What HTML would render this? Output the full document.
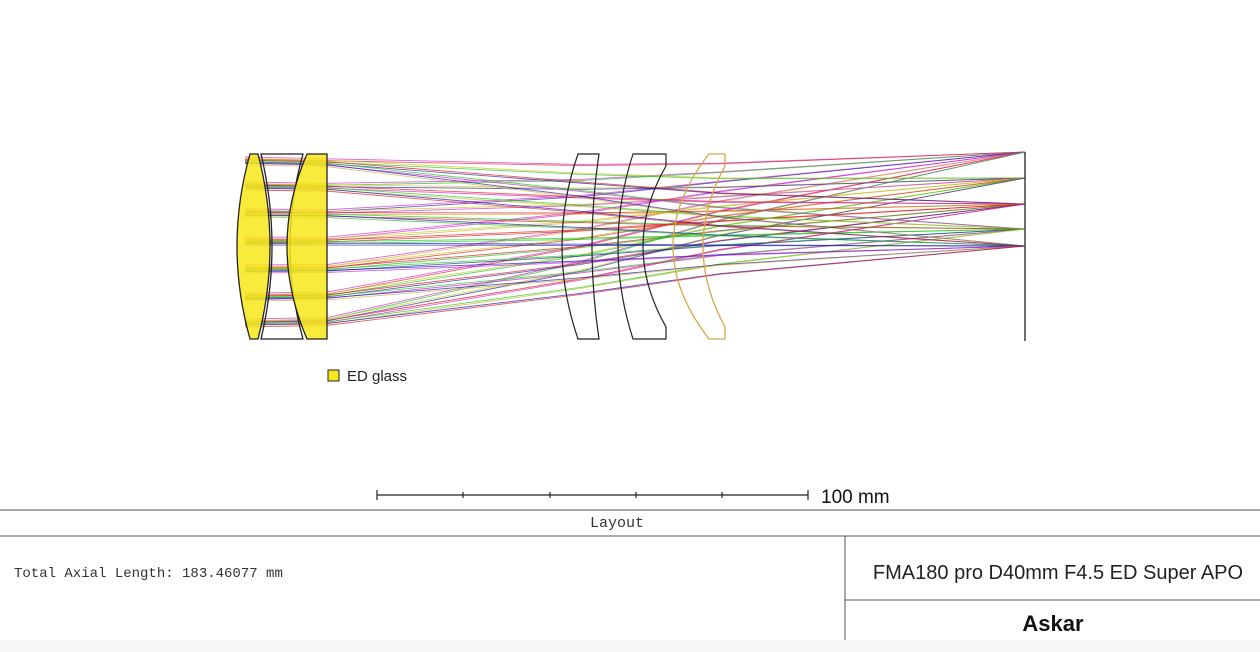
<!DOCTYPE html>
<html><head><meta charset="utf-8"><style>
html,body{margin:0;padding:0;background:#fff;}
body{width:1260px;height:652px;overflow:hidden;position:relative;font-family:"Liberation Sans",sans-serif;}
</style></head><body>
<svg id="s" width="1260" height="652" viewBox="0 0 1260 652" xmlns="http://www.w3.org/2000/svg" style="position:absolute;left:0;top:0">
<g id="rays" fill="none" stroke-width="0.9"></g>
<!-- front lenses -->
<path d="M250,154 L258,154 Q282,246 258,339 L250,339 Q224,246 250,154 Z" fill="#f7e81a" fill-opacity="0.85" stroke="#222" stroke-width="1.3"/>
<path d="M261,154 L303,154 Q277,246 303,339 L261,339 Q283,246 261,154 Z" fill="none" stroke="#222" stroke-width="1.3"/>
<path d="M307,154 L327,154 L327,339 L307,339 Q267,246 307,154 Z" fill="#f7e81a" fill-opacity="0.85" stroke="#222" stroke-width="1.3"/>
<!-- rear lenses -->
<path d="M578,154 L599,154 Q585,246 599,339 L578,339 Q546,246 578,154 Z" fill="none" stroke="#222" stroke-width="1.2"/>
<path d="M633,154 L666,154 L666,166 Q620,246 666,327 L666,339 L633,339 Q603,246 633,154 Z" fill="none" stroke="#222" stroke-width="1.2"/>
<path d="M709,154 L725,154 L725,166 Q681,246 725,327 L725,339 L709,339 Q637,246 709,154 Z" fill="none" stroke="#d8a64a" stroke-width="1.3"/>
<line x1="1025" y1="152" x2="1025" y2="341" stroke="#222" stroke-width="1.3"/>
<!-- legend -->
<rect x="328" y="370" width="11" height="11" fill="#f7e81a" stroke="#222"/>
<text x="347" y="381" font-size="15" fill="#222">ED glass</text>
<!-- scale bar -->
<g stroke="#222" stroke-width="1.2">
<line x1="377" y1="495" x2="808" y2="495"/>
<line x1="377" y1="490" x2="377" y2="500"/><line x1="463" y1="492" x2="463" y2="498"/><line x1="550" y1="492" x2="550" y2="498"/><line x1="636" y1="492" x2="636" y2="498"/><line x1="722" y1="492" x2="722" y2="498"/><line x1="808" y1="490" x2="808" y2="500"/>
</g>
<text x="821" y="503" font-size="19" fill="#111">100 mm</text>
<!-- title block -->
<g stroke="#555" stroke-width="1">
<line x1="0" y1="510" x2="1260" y2="510"/>
<line x1="0" y1="536" x2="1260" y2="536"/>
<line x1="845" y1="536" x2="845" y2="640"/>
<line x1="845" y1="600" x2="1260" y2="600"/>
</g>
<text x="617" y="527" font-size="15" fill="#333" text-anchor="middle" font-family="Liberation Mono,monospace">Layout</text>
<text x="14" y="577" font-size="14" fill="#333" font-family="Liberation Mono,monospace">Total Axial Length: 183.46077 mm</text>
<text x="1058" y="579" font-size="20" fill="#222" text-anchor="middle">FMA180 pro D40mm F4.5 ED Super APO</text>
<text x="1053" y="631" font-size="22" font-weight="bold" fill="#111" text-anchor="middle">Askar</text>
<rect x="0" y="640" width="1260" height="12" fill="#f6f6f6"/>
</svg>
<script>
var g=document.getElementById('rays');
var foc=[[152,'#d020d0'],[178,'#c8c820'],[204,'#e01010'],[229,'#10d010'],[246,'#1010c0']];
var cols=['#d020d0','#d0b030','#e02020','#20c020','#2020a0'];
var ys=[160,185,212,240,268,296,322];
var h='';
foc.forEach(function(f,fi){
 ys.forEach(function(y,i){
  for(var c=0;c<2;c++){
   var col=c==0?f[1]:cols[(fi+2+i)%5];
   var off=c*2;
   var y1=y+off+(fi-2)*1.5;
   var ym=246+(y1-246)*0.6+(f[0]-246)*0.3;
   var yl=246+(y1-246)*0.35+(f[0]-246)*0.55;
   h+='<polyline points="245,'+y1+' 327,'+(y1+(246-y1)*0.02)+' 580,'+ym+' 720,'+yl+' 1025,'+f[0]+'" stroke="'+col+'" stroke-opacity="0.7"/>';
  }
 });
});
g.innerHTML=h;
</script>
</body></html>
